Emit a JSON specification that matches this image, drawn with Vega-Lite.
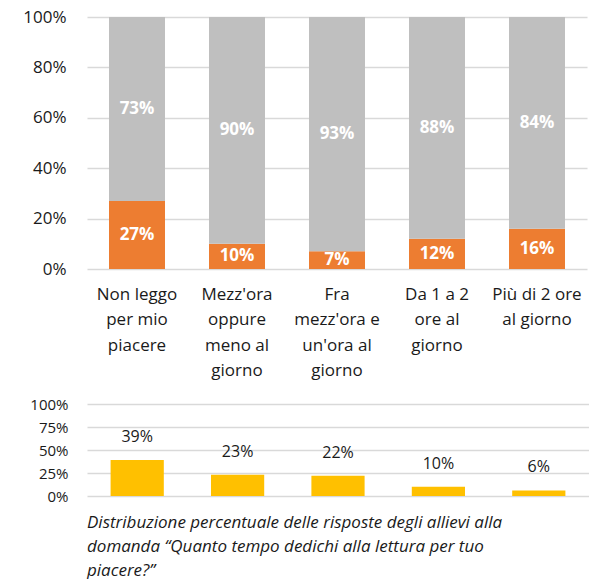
{
  "$schema": "https://vega.github.io/schema/vega-lite/v6.json",
  "background": "white",
  "padding": {"left": 15, "top": 8, "right": 0, "bottom": 0},
  "config": {
    "view": {"stroke": null},
    "font": "Open Sans",
    "axis": {"domain": false, "ticks": false, "title": null, "gridColor": "#d9d9d9", "gridWidth": 1.5, "labelColor": "#1a1a1a"}
  },
  "align": "none",
  "spacing": 18,
  "vconcat": [
    {
      "width": 500,
      "height": 252,
      "data": {"values": [
        {"cat": "Non leggo per mio piacere", "serie": "Sì", "value": 0.27},
        {"cat": "Non leggo per mio piacere", "serie": "No", "value": 0.73},
        {"cat": "Mezz'ora oppure meno al giorno", "serie": "Sì", "value": 0.10},
        {"cat": "Mezz'ora oppure meno al giorno", "serie": "No", "value": 0.90},
        {"cat": "Fra mezz'ora e un'ora al giorno", "serie": "Sì", "value": 0.07},
        {"cat": "Fra mezz'ora e un'ora al giorno", "serie": "No", "value": 0.93},
        {"cat": "Da 1 a 2 ore al giorno", "serie": "Sì", "value": 0.12},
        {"cat": "Da 1 a 2 ore al giorno", "serie": "No", "value": 0.88},
        {"cat": "Più di 2 ore al giorno", "serie": "Sì", "value": 0.16},
        {"cat": "Più di 2 ore al giorno", "serie": "No", "value": 0.84}
      ]},
      "encoding": {
        "x": {
          "field": "cat", "type": "nominal", "sort": null,
          "scale": {"paddingInner": 0.44, "paddingOuter": 0.22},
          "axis": {
            "labelAngle": 0, "labelFontSize": 17, "labelLineHeight": 25.5, "labelPadding": 17, "labelLimit": 200,
            "labelExpr": "datum.value == 'Non leggo per mio piacere' ? ['Non leggo','per mio','piacere'] : datum.value == \"Mezz'ora oppure meno al giorno\" ? [\"Mezz'ora\",'oppure','meno al','giorno'] : datum.value == \"Fra mezz'ora e un'ora al giorno\" ? ['Fra',\"mezz'ora e\",\"un'ora al\",'giorno'] : datum.value == 'Da 1 a 2 ore al giorno' ? ['Da 1 a 2','ore al','giorno'] : ['Più di 2 ore','al giorno']"
          }
        }
      },
      "layer": [
        {
          "mark": {"type": "bar"},
          "encoding": {
            "y": {
              "field": "value", "type": "quantitative", "stack": "zero",
              "scale": {"domain": [0, 1]},
              "axis": {"values": [0, 0.2, 0.4, 0.6, 0.8, 1], "format": ".0%", "labelFontSize": 17, "labelPadding": 21, "minExtent": 67}
            },
            "order": {"field": "serie", "sort": "descending"},
            "color": {"field": "serie", "type": "nominal", "legend": null,
              "scale": {"domain": ["Sì", "No"], "range": ["#ED7D31", "#BFBFBF"]}}
          }
        },
        {
          "transform": [{"filter": "datum.serie == 'Sì'"}],
          "mark": {"type": "text", "color": "white", "fontWeight": "bold", "fontSize": 17, "baseline": "middle"},
          "encoding": {
            "y": {"field": "value", "type": "quantitative", "stack": null, "scale": {"domain": [0, 2]}, "axis": null},
            "text": {"field": "value", "type": "quantitative", "format": ".0%"}
          }
        },
        {
          "transform": [{"filter": "datum.serie == 'No'"}],
          "mark": {"type": "text", "color": "white", "fontWeight": "bold", "fontSize": 17, "baseline": "middle"},
          "encoding": {
            "y": {"field": "value", "type": "quantitative", "stack": null, "scale": {"domain": [0, 2], "reverse": true}, "axis": null},
            "text": {"field": "value", "type": "quantitative", "format": ".0%"}
          }
        }
      ],
      "resolve": {"scale": {"y": "independent"}}
    },
    {
      "width": 502,
      "height": 92,
      "data": {"values": [
        {"cat": "Non leggo per mio piacere", "value": 0.39},
        {"cat": "Mezz'ora oppure meno al giorno", "value": 0.23},
        {"cat": "Fra mezz'ora e un'ora al giorno", "value": 0.22},
        {"cat": "Da 1 a 2 ore al giorno", "value": 0.10},
        {"cat": "Più di 2 ore al giorno", "value": 0.06}
      ]},
      "title": {
        "text": ["Distribuzione percentuale delle risposte degli allievi alla", "domanda “Quanto tempo dedichi alla lettura per tuo", "piacere?”"],
        "orient": "bottom", "anchor": "start", "frame": "group",
        "fontStyle": "italic", "fontWeight": "normal", "fontSize": 17, "lineHeight": 24,
        "color": "#1a1a1a", "offset": 11
      },
      "encoding": {
        "x": {"field": "cat", "type": "nominal", "sort": null, "axis": null,
          "scale": {"paddingInner": 0.47, "paddingOuter": 0.235}},
        "y": {"field": "value", "type": "quantitative",
          "scale": {"domain": [0, 1]},
          "axis": {"values": [0, 0.25, 0.5, 0.75, 1], "format": ".0%", "labelFontSize": 15, "labelPadding": 19, "minExtent": 72}}
      },
      "layer": [
        {"mark": {"type": "bar", "color": "#FFC000"}},
        {
          "mark": {"type": "text", "dy": -23, "fontSize": 16, "color": "#1a1a1a", "baseline": "middle"},
          "encoding": {"text": {"field": "value", "type": "quantitative", "format": ".0%"}}
        }
      ]
    }
  ]
}
